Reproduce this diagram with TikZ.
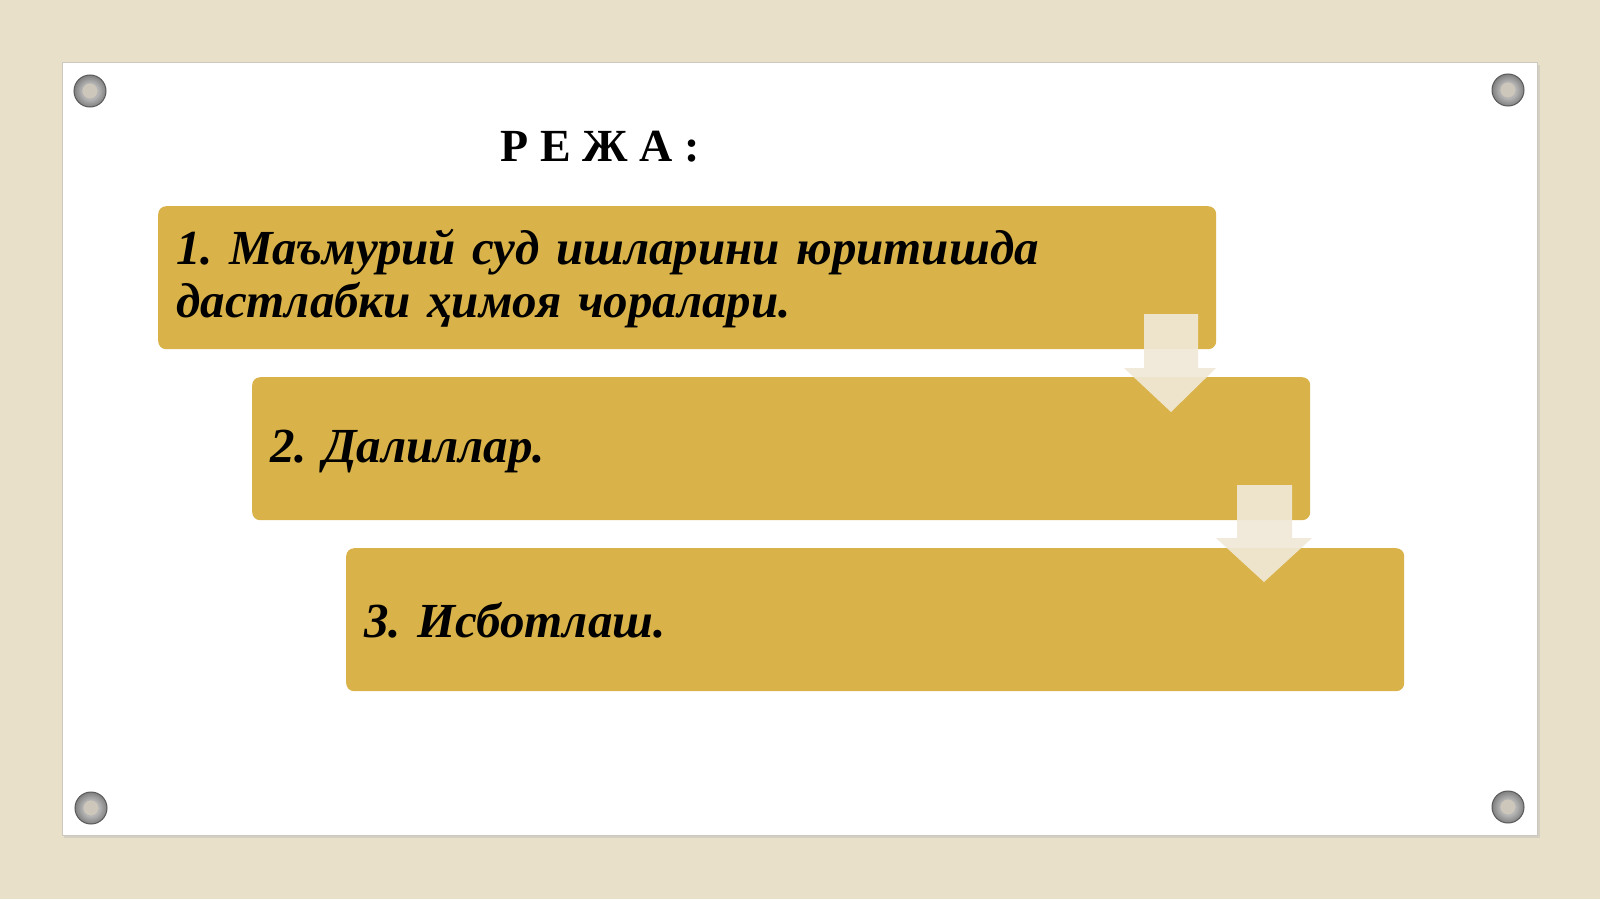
\documentclass[tikz,border=0pt]{standalone}
\usepackage{fontspec}
\setmainfont{Liberation Serif}
\usetikzlibrary{positioning}
\definecolor{bgbeige}{RGB}{233,224,201}
\definecolor{boardedge}{RGB}{205,200,190}
\definecolor{gold}{RGB}{217,179,74}
\definecolor{arrowcream}{RGB}{240,232,214}
\definecolor{screwin}{RGB}{205,198,186}
\tikzset{
  planbox/.style={fill=gold, rounded corners=8pt, draw=none, anchor=north west,
    minimum width=1058pt, minimum height=143pt, inner xsep=18pt, inner ysep=0pt,
    text width=1022pt, align=left, font=\fontsize{49}{53}\selectfont\bfseries\itshape},
  downarrow/.style={fill=arrowcream, fill opacity=0.92, draw=none},
  screw/.style={circle, minimum size=32pt, inner sep=0pt, inner color=white!85!gray, outer color=gray, draw=gray!70!black, line width=1pt},
  screwhole/.style={circle, minimum size=16pt, inner sep=0pt, fill=screwin, draw=gray!60, line width=0.6pt},
  titletext/.style={font=\fontsize{46}{50}\selectfont\bfseries}
}
\begin{document}
\frenchspacing
\begin{tikzpicture}[x=1pt,y=-1pt]
\useasboundingbox (0,0) rectangle (1600,899);
\fill[bgbeige] (0,0) rectangle (1600,899);
% board shadow and board
\fill[black!25, opacity=0.5] (64,65) rectangle (1540,838);
\fill[white, draw=boardedge, line width=0.8pt] (62,62) rectangle (1537,835);
% screws
\foreach \n/\px/\py in {tl/90/91, tr/1508/90, bl/91/808, br/1508/807}{
  \node[screw] (screw\n) at (\px,\py) {};
  \node[screwhole] (hole\n) at (\px,\py) {};
}
% title
\node[titletext] (title) at (600,147) {Р Е Ж А :};
% boxes
\node[planbox] (b1) at (158,206) {\raisebox{-1pt}[\height][\depth]{\parbox{1022pt}{1. Маъмурий суд ишларини юритишда\\дастлабки ҳимоя чоралари.}}};
\node[planbox] (b2) at (252,377) {\raisebox{-3pt}[\height][\depth]{2. Далиллар.}};
\node[planbox] (b3) at (346,548) {\raisebox{-1pt}[\height][\depth]{3. Исботлаш.}};
% arrows
\fill[downarrow] (1144,314) -- (1198,314) -- (1198,368) -- (1216,368) -- (1171,412) -- (1124,368) -- (1144,368) -- cycle;
\fill[downarrow] (1237,485) -- (1292,485) -- (1292,538) -- (1312,538) -- (1264,582) -- (1216,538) -- (1237,538) -- cycle;
\end{tikzpicture}
\end{document}
